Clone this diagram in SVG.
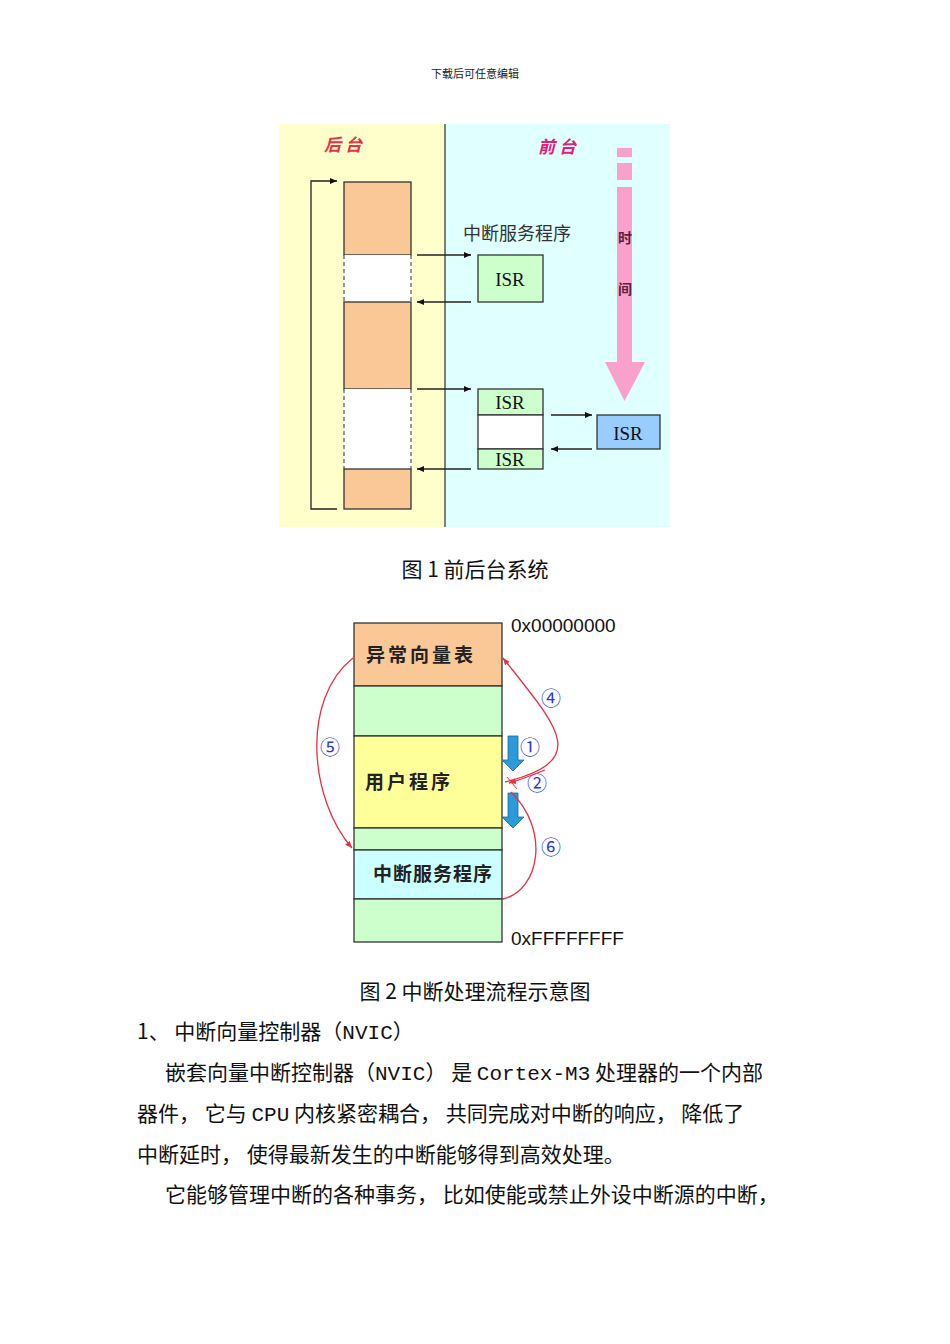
<svg xmlns="http://www.w3.org/2000/svg" width="950" height="1344" viewBox="0 0 950 1344">
<style>
.k{stroke:#222;stroke-width:1.3;fill:none}
.b{stroke:#333;stroke-width:1.3}
.isr{font-family:"Liberation Serif",serif;font-size:19px;fill:#111;text-anchor:middle}
.cj{font-family:"Noto Sans CJK SC",sans-serif}
.body{font-family:"Noto Sans CJK SC",sans-serif;font-size:21px;fill:#111}
.mono{font-family:"Liberation Mono","Noto Sans CJK SC",monospace}
.red{stroke:#e83040;stroke-width:1.3;fill:none}
.num{font-family:"Noto Sans CJK SC",sans-serif;font-size:20px;fill:#2a3ae0;text-anchor:middle}
</style>
<defs>
<marker id="a" markerWidth="8" markerHeight="8" refX="7" refY="4" orient="auto" markerUnits="userSpaceOnUse"><path d="M0,1 L7,4 L0,7z" fill="#111"/></marker>
<marker id="r" markerWidth="8" markerHeight="8" refX="7" refY="4" orient="auto" markerUnits="userSpaceOnUse"><path d="M0,1 L7,4 L0,7z" fill="#e83040"/></marker>
</defs>
<rect width="950" height="1344" fill="#fff"/>
<text x="475" y="78" class="cj" font-size="11" text-anchor="middle" fill="#222">下载后可任意编辑</text>
<g id="fig1">
<rect x="279" y="124" width="166" height="403" fill="#ffffcc"/>
<rect x="445" y="124" width="225" height="403" fill="#e0ffff"/>
<line x1="445" y1="124" x2="445" y2="527" stroke="#555" stroke-width="1.5"/>
<text x="343" y="151" class="cj" font-size="17" font-weight="bold" fill="#e8304a" text-anchor="middle" font-style="italic">后 台</text>
<text x="557" y="153" class="cj" font-size="17" font-weight="bold" fill="#e0207a" text-anchor="middle" font-style="italic">前 台</text>
<g id="bg-task">
<rect x="344" y="182" width="67" height="73" fill="#fac896" class="b"/>
<rect x="344" y="255" width="67" height="47" fill="#fff"/>
<line x1="344" y1="255" x2="344" y2="302" stroke="#333" stroke-dasharray="4,3"/>
<line x1="411" y1="255" x2="411" y2="302" stroke="#333" stroke-dasharray="4,3"/>
<rect x="344" y="302" width="67" height="87" fill="#fac896" class="b"/>
<rect x="344" y="389" width="67" height="80" fill="#fff"/>
<line x1="344" y1="389" x2="344" y2="469" stroke="#333" stroke-dasharray="4,3"/>
<line x1="411" y1="389" x2="411" y2="469" stroke="#333" stroke-dasharray="4,3"/>
<rect x="344" y="469" width="67" height="40" fill="#fac896" class="b"/>
</g>
<text x="517" y="240" class="cj" font-size="18" fill="#333" text-anchor="middle">中断服务程序</text>
<g id="isr1"><rect x="478" y="255" width="65" height="47" fill="#ccffcc" class="b"/><text x="510" y="286" class="isr">ISR</text></g>
<g id="isr2">
<rect x="478" y="389" width="65" height="26" fill="#ccffcc" class="b"/><text x="510" y="409" class="isr">ISR</text>
<rect x="478" y="415" width="65" height="34" fill="#fff" class="b"/>
<rect x="478" y="449" width="65" height="20" fill="#ccffcc" class="b"/><text x="510" y="466" class="isr" font-size="17">ISR</text>
</g>
<g id="isr3"><rect x="597" y="415" width="63" height="34" fill="#99ccff" class="b"/><text x="628" y="440" class="isr">ISR</text></g>
<g id="time">
<rect x="617" y="148" width="15" height="9" fill="#f9a0cc"/>
<rect x="617" y="163" width="15" height="17" fill="#f9a0cc"/>
<path d="M617,187 H632 V362 H645 L624.5,401 L605,362 H617z" fill="#f9a0cc"/>
<text x="625" y="243" class="cj" font-size="14" font-weight="bold" fill="#602040" text-anchor="middle">时</text>
<text x="625" y="294" class="cj" font-size="14" font-weight="bold" fill="#602040" text-anchor="middle">间</text>
</g>
<g id="connectors1">
<path d="M337,509 H311 V181 H337" class="k" marker-end="url(#a)"/>
<line x1="417" y1="255" x2="471" y2="255" class="k" marker-end="url(#a)"/>
<line x1="471" y1="302" x2="417" y2="302" class="k" marker-end="url(#a)"/>
<line x1="417" y1="389" x2="471" y2="389" class="k" marker-end="url(#a)"/>
<line x1="471" y1="469" x2="417" y2="469" class="k" marker-end="url(#a)"/>
<line x1="551" y1="415" x2="592" y2="415" class="k" marker-end="url(#a)"/>
<line x1="592" y1="449" x2="551" y2="449" class="k" marker-end="url(#a)"/>
</g>
</g>
<text x="475" y="577" class="body" text-anchor="middle">图 1  前后台系统</text>
<g id="fig2">
<rect x="354" y="623" width="148" height="63" fill="#fac896" class="b"/>
<rect x="354" y="686" width="148" height="50" fill="#ccffcc" class="b"/>
<rect x="354" y="736" width="148" height="92" fill="#ffff99" class="b"/>
<rect x="354" y="828" width="148" height="22" fill="#ccffcc" class="b"/>
<rect x="354" y="850" width="148" height="49" fill="#ccffff" class="b"/>
<rect x="354" y="899" width="148" height="43" fill="#ccffcc" class="b"/>
<text x="421" y="662" class="cj" font-size="19" font-weight="bold" fill="#222" text-anchor="middle" letter-spacing="3">异常向量表</text>
<text x="409" y="789" class="cj" font-size="19" font-weight="bold" fill="#222" text-anchor="middle" letter-spacing="3">用户程序</text>
<text x="433" y="881" class="cj" font-size="19" font-weight="bold" fill="#222" text-anchor="middle" letter-spacing="1">中断服务程序</text>
<text x="511" y="632" font-family="Liberation Sans,sans-serif" font-size="19" fill="#111">0x00000000</text>
<text x="511" y="945" font-family="Liberation Sans,sans-serif" font-size="19" fill="#111">0xFFFFFFFF</text>
<path d="M508,736 H518 V760 H524 L513,771 L502,760 H508z" fill="#2a9ad8" stroke="#1a6a9a" stroke-width="0.8"/>
<path d="M508,793 H518 V817 H524 L513,828 L502,817 H508z" fill="#2a9ad8" stroke="#1a6a9a" stroke-width="0.8"/>
<text x="530" y="755" class="num">①</text>
<text x="537" y="791" class="num">②</text>
<text x="551" y="706" class="num">④</text>
<text x="330" y="755" class="num">⑤</text>
<text x="551" y="855" class="num">⑥</text>
<g id="connectors2">
<path d="M353,658 C300,700 310,800 352,848" class="red" marker-end="url(#r)"/>
<path d="M505,782 C590,760 560,730 503,658" class="red" marker-end="url(#r)"/>
<path d="M545,770 C530,776 520,780 509,783" class="red" marker-end="url(#r)"/>
<path d="M503,899 C540,890 550,830 511,792" class="red"/>
<line x1="507" y1="777" x2="517" y2="789" stroke="#e83040" stroke-width="1"/>
</g>
</g>
<text x="475" y="999" class="body" text-anchor="middle">图 2  中断处理流程示意图</text>
<g class="body">
<text x="137" y="1039">1、 中断向量控制器（<tspan class="mono">NVIC</tspan>）</text>
<text x="165" y="1080">嵌套向量中断控制器（<tspan class="mono">NVIC</tspan>） 是 <tspan class="mono">Cortex-M3</tspan> 处理器的一个内部</text>
<text x="137" y="1121">器件， 它与 <tspan class="mono">CPU</tspan> 内核紧密耦合， 共同完成对中断的响应， 降低了</text>
<text x="137" y="1162">中断延时， 使得最新发生的中断能够得到高效处理。</text>
<text x="165" y="1202">它能够管理中断的各种事务， 比如使能或禁止外设中断源的中断，</text>
</g>
</svg>
